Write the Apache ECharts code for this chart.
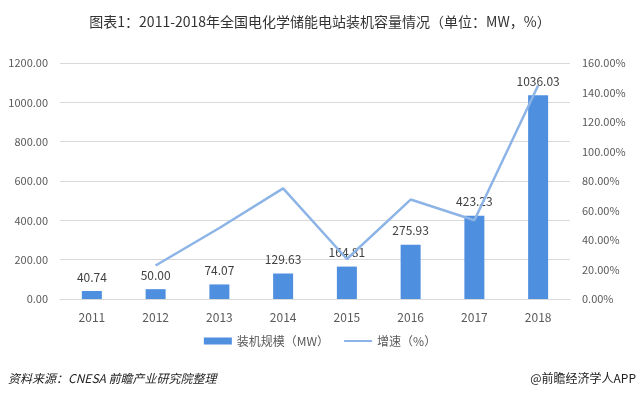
<!DOCTYPE html>
<html>
<head>
<meta charset="utf-8">
<script src="https://cdn.jsdelivr.net/npm/echarts@6/dist/echarts.min.js"></script>
<style>
  html, body { margin: 0; padding: 0; background: #fff; }
  #chart { width: 640px; height: 398px; }
</style>
</head>
<body>
<div id="chart"></div>
<script>
const years = ["2011", "2012", "2013", "2014", "2015", "2016", "2017", "2018"];
const capacity = [40.74, 50.00, 74.07, 129.63, 164.81, 275.93, 423.23, 1036.03];
const growth = [null, 22.73, 48.14, 75.01, 27.14, 67.42, 53.39, 144.79];

const font = "'Noto Sans CJK SC', 'Noto Sans', sans-serif";

const chart = echarts.init(document.getElementById("chart"));
chart.setOption({
    animation: false,
    textStyle: { fontFamily: font },
    title: {
        text: "图表1：2011-2018年全国电化学储能电站装机容量情况（单位：MW，%）",
        left: "center",
        top: 10,
        textStyle: { fontSize: 14, fontWeight: "normal", color: "#333", fontFamily: font }
    },
    grid: { left: 60, right: 70, top: 63, bottom: 99 },
    legend: {
        bottom: 46,
        left: "center",
        itemGap: 14,
        itemWidth: 28,
        itemHeight: 7,
        textStyle: { fontSize: 12, color: "#595959", fontFamily: font },
        data: [
            { name: "装机规模（MW）", icon: "rect" },
            { name: "增速（%）", itemStyle: { opacity: 0 } }
        ]
    },
    xAxis: {
        type: "category",
        data: years,
        axisTick: { show: false },
        axisLine: { lineStyle: { color: "#d9d9d9" } },
        axisLabel: { color: "#595959", fontSize: 12, margin: 12 }
    },
    yAxis: [{
        type: "value",
        min: 0, max: 1200, interval: 200,
        axisLabel: { color: "#595959", fontSize: 11, margin: 12, formatter: v => v.toFixed(2) },
        splitLine: { lineStyle: { color: "#d9d9d9" } }
    }, {
        type: "value",
        min: 0, max: 160, interval: 20,
        axisLabel: { color: "#595959", fontSize: 11, margin: 12, formatter: v => v.toFixed(2) + "%" },
        splitLine: { show: false }
    }],
    series: [{
        name: "装机规模（MW）",
        type: "bar",
        data: capacity,
        barWidth: 20,
        itemStyle: { color: "#4f8fe0" },
        label: {
            show: true, position: "top", distance: 8,
            color: "#404040", fontSize: 12,
            formatter: p => p.value.toFixed(2)
        }
    }, {
        name: "增速（%）",
        type: "line",
        yAxisIndex: 1,
        data: growth,
        symbol: "none",
        lineStyle: { color: "#8db4e6", width: 2.5 },
        itemStyle: { color: "#8db4e6" }
    }],
    graphic: [{
        type: "text",
        left: 8, top: 372,
        style: { text: "资料来源：CNESA 前瞻产业研究院整理", fill: "#222", fontSize: 12, fontStyle: "italic", fontFamily: font }
    }, {
        type: "text",
        right: 4, top: 372,
        style: { text: "@前瞻经济学人APP", fill: "#222", fontSize: 12, fontFamily: font }
    }]
});
</script>
</body>
</html>
